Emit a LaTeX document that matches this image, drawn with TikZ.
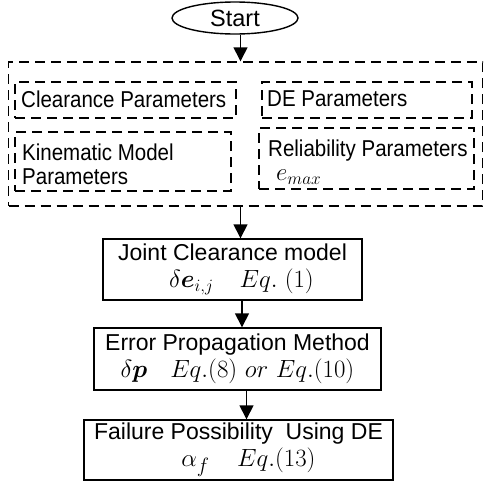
\documentclass[tikz,border=0pt]{standalone}
\usepackage{amsmath}
\usepackage{graphicx}
\usepackage{fontspec}
\setmainfont{Liberation Sans}
\usetikzlibrary{shapes.geometric,arrows.meta}
\newcommand{\mymath}[2][25]{{\fontsize{#1}{28}\selectfont$#2$}}
\newcommand{\tallt}[1]{\scalebox{1}[1.12]{#1}}
\begin{document}
\begin{tikzpicture}[x=1pt,y=-1pt,
  dbox/.style={draw,dash pattern=on 10pt off 6pt,line width=1.4pt,inner sep=0pt,rectangle},
  sbox/.style={draw,line width=1.4pt,rectangle,inner sep=0pt,align=center,font=\fontsize{23}{27}\selectfont},
  small/.style={inner sep=0pt,align=left,font=\fontsize{20.5}{24}\selectfont},
  arr/.style={line width=1.4pt,-{Triangle[width=14pt,length=14pt]}}]
\useasboundingbox (0,0) rectangle (484,482);
\node[ellipse,draw,line width=1.4pt,minimum width=126pt,minimum height=32pt,inner sep=0pt,font=\fontsize{23.5}{27}\selectfont] (start) at (235,18) {Start};
\node[dbox,minimum width=474pt,minimum height=144pt] (outer) at (245.5,134) {};
\node[dbox,minimum width=221pt,minimum height=36pt] (clr) at (125.5,100) {};
\node[dbox,minimum width=210pt,minimum height=36pt] (de) at (367,100) {};
\node[dbox,minimum width=216pt,minimum height=59pt] (kin) at (123,161.5) {};
\node[dbox,minimum width=215pt,minimum height=61pt] (rel) at (366.5,158.5) {};
\node[small,anchor=west] (clrT) at (21,99) {\tallt{Clearance Parameters}};
\node[small,anchor=west] (deT) at (267,99) {\tallt{DE Parameters}};
\node[small,anchor=west] (kinT) at (22,164) {\tallt{Kinematic Model}\\\tallt{Parameters}};
\node[small,anchor=west] (relT) at (268,162) {\tallt{Reliability Parameters}\\\hspace*{8pt}\mymath[26]{e_{max}}};
\node[sbox,minimum width=259pt,minimum height=61pt] (joint) at (232.5,269.5) {Joint Clearance model\\\hspace*{18pt}\mymath[26]{\delta\boldsymbol{e}_{i,j}\quad Eq.\ (1)}};
\node[sbox,minimum width=287pt,minimum height=62pt] (err) at (237.5,359) {Error Propagation Method\\\mymath[27.5]{\delta\boldsymbol{p}\ \ \ Eq.(8)\ or\ Eq.(10)}};
\node[sbox,minimum width=309pt,minimum height=60pt] (fail) at (238.5,450) {Failure Possibility\ \ Using DE\\\hspace*{20pt}\mymath[27.5]{\alpha_f\quad Eq.(13)}};
\coordinate (ax1) at (240.5,0);
\coordinate (ax2) at (242,0);
\coordinate (ax3) at (246.5,0);
\draw[arr] (start.south -| ax1) -- (outer.north -| ax1);
\draw[arr] (outer.south -| ax1) -- (joint.north -| ax1);
\draw[arr] (joint.south -| ax2) -- (err.north -| ax2);
\draw[arr] (err.south -| ax3) -- (fail.north -| ax3);
\end{tikzpicture}
\end{document}
